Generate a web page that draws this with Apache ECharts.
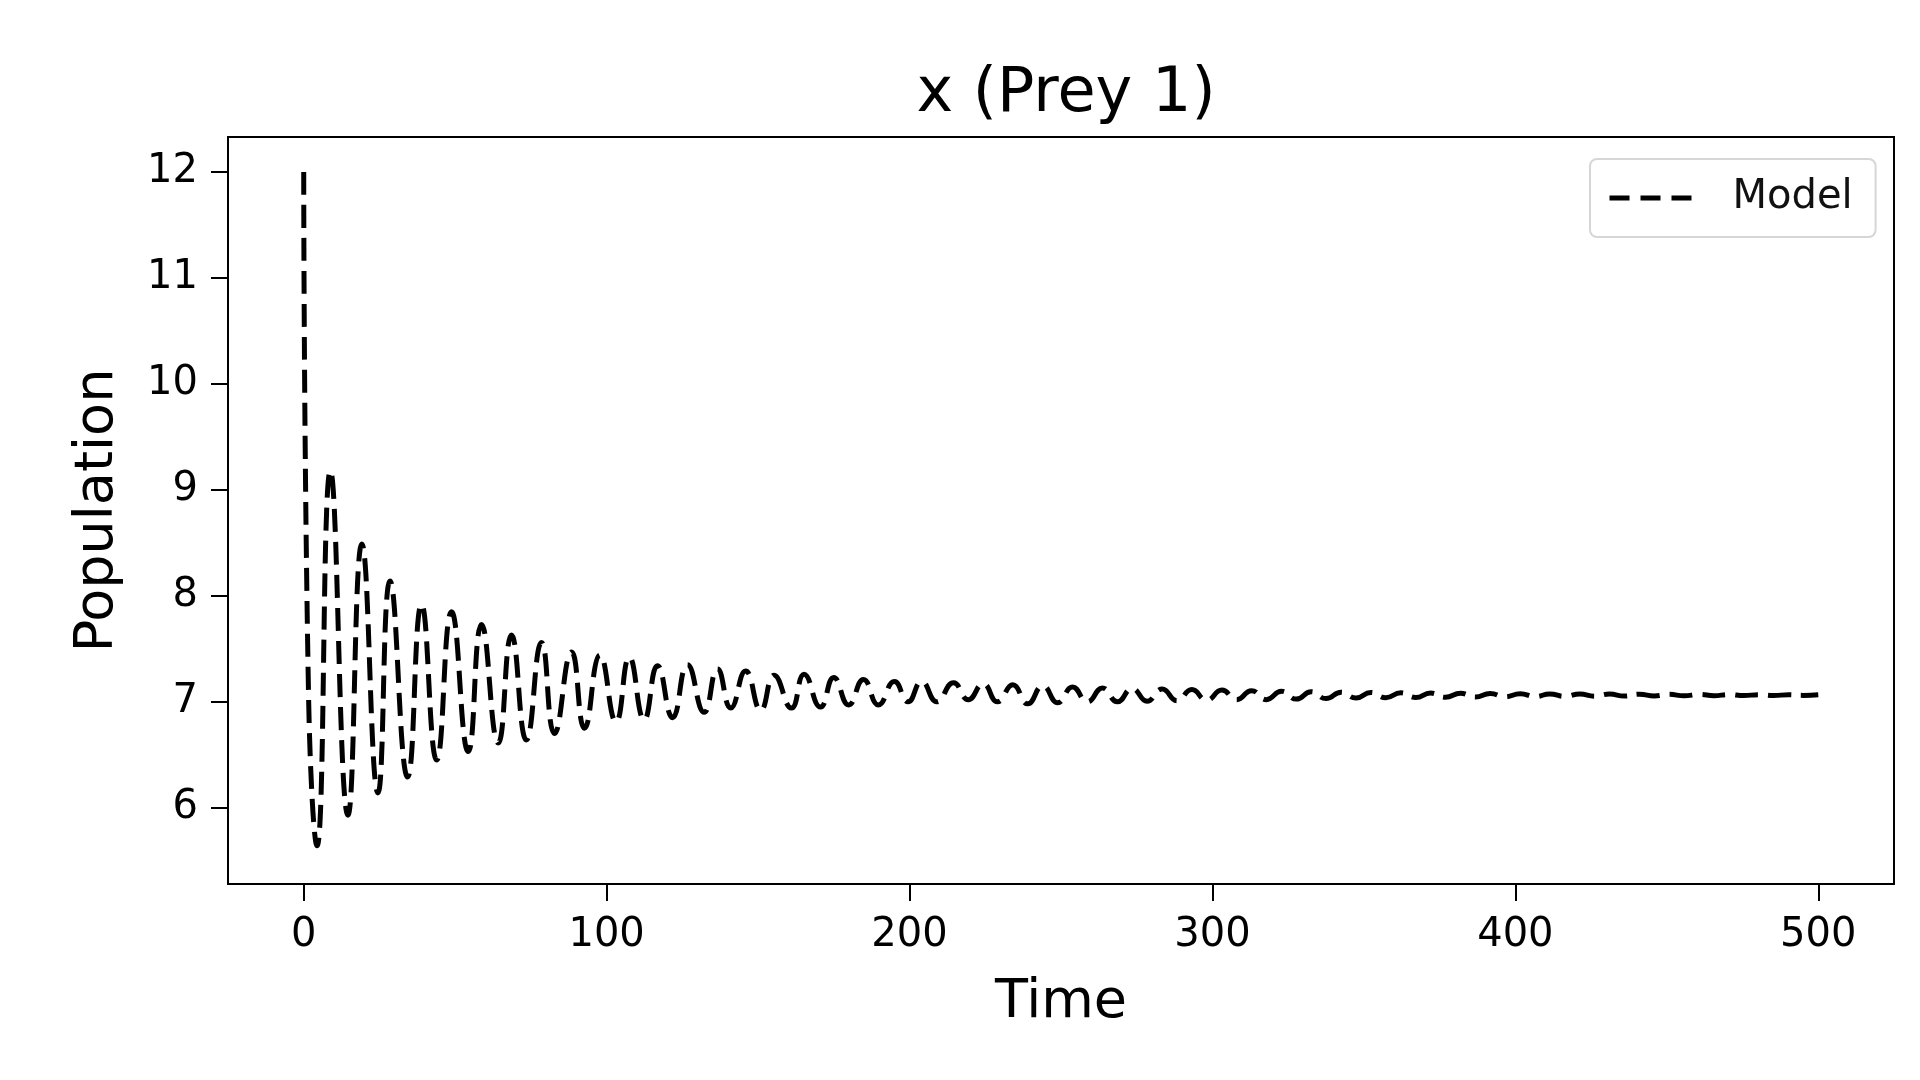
<!DOCTYPE html>
<html>
<head>
<meta charset="utf-8">
<title>x (Prey 1)</title>
<script src="https://cdn.jsdelivr.net/npm/echarts@6/dist/echarts.min.js"></script>
<style>
	html, body { margin: 0; padding: 0; background: #fff; }
	#chart { width: 1920px; height: 1080px; }
</style>
</head>
<body>
<div id="chart"></div>
<script>
	// time points (peaks / troughs)
	const timePoints = [
		0, 1.6, 4.4, 8.8, 14.6, 19.2, 24.5, 28.5, 34.3, 38.9,
		43.9, 48.8, 54.3, 58.7, 64.2, 68.6, 73.5, 78.5, 82.8, 88.4,
		92.7, 97.8, 103.1, 107.5, 112.4, 116.8, 121.8, 126.7, 132.2, 136.6,
		141.0, 145.9, 150.9, 155.3, 161.0, 165.2, 170.6, 175.0, 179.9, 184.8,
		189.7, 195.0, 199.5, 204.0, 209.0, 214.5, 219.4, 224.3, 229.0, 234.1,
		239.0, 244.0, 248.9, 253.8, 258.7, 263.7, 268.6, 273.5, 278.4, 283.4,
		288.3, 293.2, 298.1, 303.1, 308.0, 312.9, 317.8, 322.8, 327.7, 332.6,
		337.5, 342.5, 347.4, 352.3, 357.2, 362.2, 367.1, 372.0, 376.9, 381.9,
		386.8, 391.7, 396.6, 401.6, 406.5, 411.4, 416.3, 421.3, 426.2, 431.1,
		436.0, 441.0, 445.9, 450.8, 455.7, 460.7, 465.6, 470.5, 475.4, 480.4,
		485.3, 490.2, 495.1, 500.0
	];
	// model population x (Prey 1)
	const preyValues = [
		12.0, 7.05, 5.64, 9.18, 5.93, 8.49, 6.14, 8.14, 6.29, 7.92,
		6.45, 7.85, 6.53, 7.73, 6.61, 7.63, 6.64, 7.56, 6.70, 7.47,
		6.75, 7.44, 6.81, 7.42, 6.83, 7.34, 6.85, 7.35, 6.90, 7.31,
		6.94, 7.29, 6.92, 7.25, 6.94, 7.26, 6.95, 7.23, 6.97, 7.21,
		6.97, 7.19, 7.00, 7.19, 7.00, 7.18, 7.02, 7.17, 7.00, 7.16,
		6.98, 7.15, 6.99, 7.14, 7.00, 7.13, 7.00, 7.125, 7.005, 7.12,
		7.01, 7.115, 7.015, 7.11, 7.02, 7.105, 7.02, 7.10, 7.025, 7.095,
		7.03, 7.09, 7.035, 7.088, 7.037, 7.085, 7.04, 7.082, 7.042, 7.08,
		7.045, 7.078, 7.047, 7.076, 7.049, 7.074, 7.051, 7.073, 7.053, 7.072,
		7.054, 7.071, 7.055, 7.07, 7.056, 7.069, 7.057, 7.068, 7.058, 7.067,
		7.059, 7.066, 7.06, 7.065
	];
	// tick labels
	const xTicks = [0, 100, 200, 300, 400, 500];
	const yTicks = [6, 7, 8, 9, 10, 11, 12];

	const font = 'DejaVu Sans';
	const chart = echarts.init(document.getElementById('chart'), null, { renderer: 'canvas' });

	chart.setOption({
		animation: false,
		backgroundColor: '#fff',
		title: {
			text: 'x (Prey 1)',
			left: 1061,
			top: 59,
			textAlign: 'center',
			textStyle: { fontFamily: font, fontSize: 62, fontWeight: 'normal', color: '#000' }
		},
		legend: {
			data: ['Model'],
			left: 1590,
			top: 159,
			padding: [19, 23, 19, 17],
			itemWidth: 83,
			itemHeight: 14,
			backgroundColor: '#fff',
			borderColor: '#d6d6d6',
			borderWidth: 2,
			borderRadius: 7,
			itemStyle: { opacity: 0 },
			lineStyle: { color: '#000', width: 5, type: [20, 11] },
			textStyle: { fontFamily: font, fontSize: 40, color: '#111', padding: [0, 0, 0, 35] }
		},
		grid: {
			left: 228,
			right: 26,
			top: 137,
			bottom: 196,
			show: true,
			borderColor: '#000',
			borderWidth: 2
		},
		xAxis: {
			type: 'value',
			min: -25,
			max: 525,
			name: 'Time',
			nameLocation: 'middle',
			nameGap: 92,
			nameTextStyle: { fontFamily: font, fontSize: 54, color: '#000' },
			axisLine: { show: true, onZero: false, lineStyle: { color: '#000', width: 2 } },
			axisTick: { show: true, length: 17, lineStyle: { color: '#000', width: 2 }, customValues: xTicks },
			axisLabel: { margin: 32, fontFamily: font, fontSize: 40, color: '#000', customValues: xTicks },
			splitLine: { show: false }
		},
		yAxis: {
			type: 'value',
			min: 5.28,
			max: 12.33,
			name: 'Population',
			nameLocation: 'middle',
			nameGap: 103,
			nameTextStyle: { fontFamily: font, fontSize: 54, color: '#000' },
			axisLine: { show: true, onZero: false, lineStyle: { color: '#000', width: 2 } },
			axisTick: { show: true, length: 17, lineStyle: { color: '#000', width: 2 }, customValues: yTicks },
			axisLabel: { margin: 30, fontFamily: font, fontSize: 40, color: '#000', customValues: yTicks },
			splitLine: { show: false }
		},
		series: [
			{
				name: 'Model',
				type: 'line',
				data: timePoints.map((t, i) => [t, preyValues[i]]),
				smooth: 0.5,
				showSymbol: false,
				symbol: 'none',
				lineStyle: { color: '#000', width: 5, type: [23, 10] },
				itemStyle: { color: '#000' }
			}
		]
	});
</script>
</body>
</html>
